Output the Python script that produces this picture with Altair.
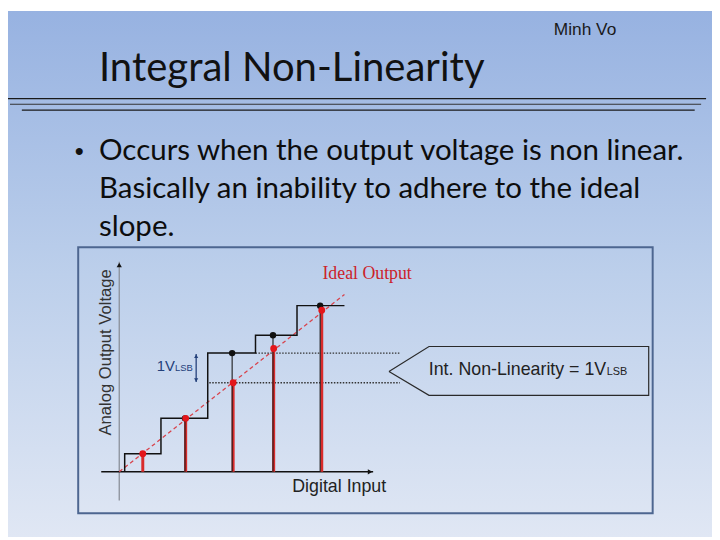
import altair as alt
import pandas as pd

W, H = 712, 532

# ---------------- slide texts ----------------
title = "Integral Non-Linearity"
author = "Minh Vo"
bullet_lines = [
    "Occurs when the output voltage is non linear.",
    "Basically an inability to adhere to the ideal",
    "slope.",
]
y_label = "Analog Output Voltage"
x_label = "Digital Input"
ideal_label = "Ideal Output"
callout_main = "Int. Non-Linearity = 1V"
callout_sub = "LSB"
lsb_main = "1V"
lsb_sub = "LSB"

# ---------------- diagram values (x: input code, y: LSB) ----------------
X_DOMAIN = [-2.557, 13.625]
Y_DOMAIN = [-1.833, 12.944]

ideal_x = [0.0, 5.177]
ideal_y = [0.0, 4.98]

step_edges = [0.125, 0.959, 2.034, 3.132, 4.086, 5.177]
step_levels = [0.508, 1.5, 3.333, 3.833, 4.667]

red_x = [0.541, 1.527, 2.618, 3.55, 4.655]
red_y = [0.508, 1.5, 2.5, 3.464, 4.536]

black_x = [1.511, 2.595, 3.534, 4.618]
black_y = [1.5, 3.333, 3.833, 4.667]

inl_y = [3.333, 2.5]
inl_start = [3.132, 2.07]
inl_end = [6.45, 6.45]

lsb_x = [1.768]
lsb_lo = [2.519]
lsb_hi = [3.306]

callout_x = [6.2, 7.12, 12.17, 12.17, 7.12, 6.2]
callout_y = [2.814, 3.519, 3.519, 2.147, 2.147, 2.814]

yaxis_x = [0.0]
yaxis_range = [-0.806, 5.897]
xaxis_range = [-0.414, 5.836]

xs = alt.Scale(domain=X_DOMAIN, nice=False, zero=False)
ys = alt.Scale(domain=Y_DOMAIN, nice=False, zero=False)

one = alt.Data(values=[{"a": 1}])


def X(f="x"):
    return alt.X(f + ":Q", scale=xs, axis=None)


def Y(f="y"):
    return alt.Y(f + ":Q", scale=ys, axis=None)


def txt(s, x, y, **kw):
    return alt.Chart(one).mark_text(**kw).encode(
        x=alt.value(x), y=alt.value(y), text=alt.value(s)
    )


layers = []

# background gradient
layers.append(
    alt.Chart(one)
    .mark_rect(
        color=alt.LinearGradient(
            gradient="linear",
            stops=[
                alt.GradientStop(color="#97b2e1", offset=0),
                alt.GradientStop(color="#bccfeb", offset=0.5),
                alt.GradientStop(color="#e0e7f4", offset=1),
            ],
            x1=0, x2=0, y1=0, y2=1,
        )
    )
    .encode(x=alt.value(0), x2=alt.value(W), y=alt.value(0), y2=alt.value(H))
)

# title rules
for (x1, x2, yy, c) in [(0, 706, 88.7, "#1a1a1a"), (2, 701, 94.3, "#333333"), (14, 694.5, 100.3, "#1a1a1a")]:
    layers.append(
        alt.Chart(one).mark_rule(color=c, strokeWidth=1.2)
        .encode(x=alt.value(x1), x2=alt.value(x2), y=alt.value(yy))
    )

# slide texts
layers.append(txt(title, 92, 71.3, font="Lato", fontSize=40.5, align="left", baseline="alphabetic", color="#111111"))
layers.append(txt(author, 552, 24.5, font="Liberation Sans", fontSize=17.5, align="left", baseline="alphabetic", color="#1a1a1a"))
layers.append(txt("\u2022", 72, 151, font="Liberation Sans", fontSize=26, align="center", baseline="alphabetic", color="#111111"))
for i, line in enumerate(bullet_lines):
    layers.append(txt(line, 92, 151 + 38.3 * i, font="Lato", fontSize=29.8, align="left", baseline="alphabetic", color="#0d0d0d"))

# panel border
layers.append(
    alt.Chart(one).mark_rect(fillOpacity=0, stroke="#4d6690", strokeWidth=2)
    .encode(x=alt.value(71), x2=alt.value(652), y=alt.value(239), y2=alt.value(508))
)

# axes lines
layers.append(
    alt.Chart(pd.DataFrame({"x": yaxis_x, "y": [yaxis_range[0]], "y2": [yaxis_range[1]]}))
    .mark_rule(color="#8a8f99", strokeWidth=1.3)
    .encode(x=X(), y=Y(), y2="y2:Q")
)
layers.append(
    alt.Chart(pd.DataFrame({"x": [xaxis_range[0]], "x2": [xaxis_range[1]], "y": [0.0]}))
    .mark_rule(color="#111111", strokeWidth=1.5)
    .encode(x=X(), x2="x2:Q", y=Y())
)
layers.append(
    alt.Chart(pd.DataFrame({"x": [0.0], "y": [yaxis_range[1] - 0.09]}))
    .mark_point(shape="triangle-up", filled=True, size=28, color="#111111", opacity=1)
    .encode(x=X(), y=Y())
)
layers.append(
    alt.Chart(pd.DataFrame({"x": [xaxis_range[1] - 0.07], "y": [0.0]}))
    .mark_point(shape="triangle-right", filled=True, size=28, color="#111111", opacity=1)
    .encode(x=X(), y=Y())
)

# ideal dashed line
layers.append(
    alt.Chart(pd.DataFrame({"x": ideal_x, "y": ideal_y}))
    .mark_line(color="#d8434c", strokeWidth=1.3, strokeDash=[4, 3])
    .encode(x=X(), y=Y())
)

# dotted INL guides
layers.append(
    alt.Chart(pd.DataFrame({"x": inl_start, "x2": inl_end, "y": inl_y}))
    .mark_rule(color="#333333", strokeWidth=1.4, strokeDash=[1.5, 1.5])
    .encode(x=X(), x2="x2:Q", y=Y())
)

# staircase
pts_x = [step_edges[0]]
pts_y = [0.0]
for i, lvl in enumerate(step_levels):
    pts_x += [step_edges[i], step_edges[i + 1]]
    pts_y += [lvl, lvl]
stair = pd.DataFrame({"x": pts_x, "y": pts_y, "o": list(range(len(pts_x)))})
layers.append(
    alt.Chart(stair).mark_line(color="#111111", strokeWidth=1.5)
    .encode(x=X(), y=Y(), order="o:Q")
)

# red stems
layers.append(
    alt.Chart(pd.DataFrame({"x": red_x, "y": [0.0] * len(red_x), "y2": red_y}))
    .mark_rule(color="#d92b2b", strokeWidth=3)
    .encode(x=X(), y=Y(), y2="y2:Q")
)
# black stems
layers.append(
    alt.Chart(pd.DataFrame({"x": black_x, "y": [0.0] * len(black_x), "y2": black_y}))
    .mark_rule(color="#1a1a1a", strokeWidth=1.1)
    .encode(x=X(), y=Y(), y2="y2:Q")
)
# black dots
layers.append(
    alt.Chart(pd.DataFrame({"x": black_x, "y": black_y}))
    .mark_circle(color="#111111", size=42, opacity=1)
    .encode(x=X(), y=Y())
)
# red dots
layers.append(
    alt.Chart(pd.DataFrame({"x": red_x, "y": red_y}))
    .mark_circle(color="#e3161b", size=48, opacity=1)
    .encode(x=X(), y=Y())
)

# 1 LSB double arrow
layers.append(
    alt.Chart(pd.DataFrame({"x": lsb_x, "y": lsb_lo, "y2": lsb_hi}))
    .mark_rule(color="#23407a", strokeWidth=1.3)
    .encode(x=X(), y=Y(), y2="y2:Q")
)
layers.append(
    alt.Chart(pd.DataFrame({"x": lsb_x, "y": [lsb_hi[0] - 0.06]}))
    .mark_point(shape="triangle-up", filled=True, size=18, color="#23407a", opacity=1)
    .encode(x=X(), y=Y())
)
layers.append(
    alt.Chart(pd.DataFrame({"x": lsb_x, "y": [lsb_lo[0] + 0.06]}))
    .mark_point(shape="triangle-down", filled=True, size=18, color="#23407a", opacity=1)
    .encode(x=X(), y=Y())
)

# callout pentagon
layers.append(
    alt.Chart(pd.DataFrame({"x": callout_x, "y": callout_y, "o": list(range(len(callout_x)))}))
    .mark_line(color="#2a2a2a", strokeWidth=1.2)
    .encode(x=X(), y=Y(), order="o:Q")
)

# diagram texts
layers.append(txt(callout_main, 605, 367.7, font="Liberation Sans", fontSize=18, align="right", baseline="alphabetic", color="#222222"))
layers.append(txt(callout_sub, 605.5, 367.7, font="Liberation Sans", fontSize=11, align="left", baseline="alphabetic", color="#222222"))
layers.append(txt(lsb_main, 168.7, 363.7, font="Liberation Sans", fontSize=15, align="right", baseline="alphabetic", color="#23407a"))
layers.append(txt(lsb_sub, 169, 363.7, font="Liberation Sans", fontSize=9.5, align="left", baseline="alphabetic", color="#23407a"))
layers.append(txt(ideal_label, 318, 271, font="Liberation Serif", fontSize=18, align="left", baseline="alphabetic", color="#cc2229"))
layers.append(txt(x_label, 335, 486.5, font="Liberation Sans", fontSize=18, align="center", baseline="alphabetic", color="#222222"))
layers.append(txt(y_label, 104, 345.3, font="Liberation Sans", fontSize=16.8, align="center", baseline="alphabetic", angle=270, color="#333333"))

chart = (
    alt.layer(*layers)
    .properties(width=W, height=H, padding=0, autosize=alt.AutoSizeParams(type="none"))
    .configure_view(stroke=None)
)

chart.save("out.html", embed_options={"renderer": "svg", "actions": False})
